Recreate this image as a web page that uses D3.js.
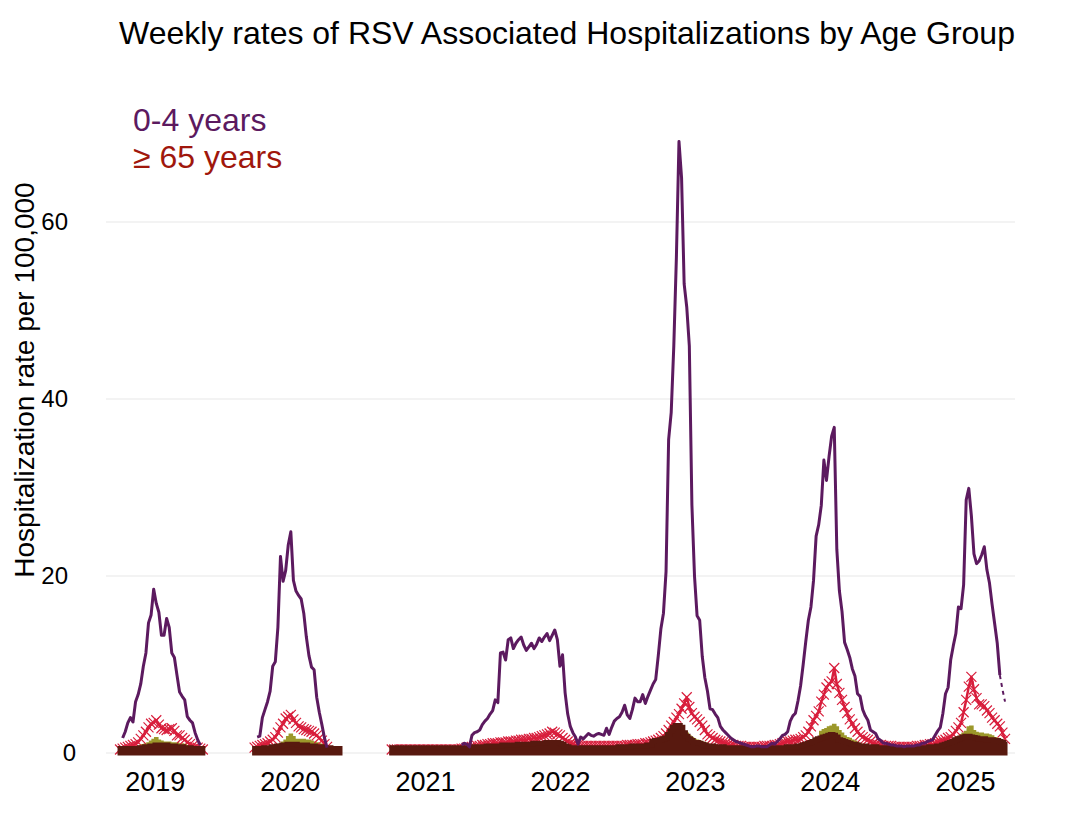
<!DOCTYPE html>
<html>
<head>
<meta charset="utf-8">
<script src="https://cdn.jsdelivr.net/npm/d3@7"></script>
<style>
  body { margin: 0; background: #fff; }
  text { font-family: "Liberation Sans", Arial, sans-serif; }
</style>
</head>
<body>
<div id="chart-area"></div>
<script>
// first week of each run of weekly data
let segmentStarts = ["2018-09-29", "2019-09-28", "2020-10-03"];
let yearTicks = [2019, 2020, 2021, 2022, 2023, 2024, 2025];
let yTicks = [0, 20, 40, 60];

// 0-4 years (purple line)
let kids2019 = [null, 1.7, 2.4, 3.4, 4.0, 3.5, 5.8, 6.6, 7.8, 9.8, 11.3, 14.7, 15.6, 18.5, 16.9, 15.9, 13.3, 13.3, 15.2, 14.2, 11.3, 10.8, 8.8, 6.9, 6.4, 6.0, 4.1, 3.7, 3.4, 2.3, 1.5, 0.9, null];
let kids2020 = [null, 1.8, 1.9, 4.0, 4.9, 5.8, 7.0, 9.8, 10.3, 14.2, 22.2, 19.4, 20.6, 23.5, 25.0, 19.5, 18.3, 17.8, 17.4, 15.8, 13.1, 11.0, 9.7, 9.4, 6.3, 4.6, 3.2, 1.7, 0.6, null, null, null, null, null];
let kidsLater = [
  null, null, null, null, null, null, null, null, null, null, null, null, null, null, null, null, null, null, null, null, null, null, null, null, null, null, null,
  0.9, 1.1, 1.0, 0.7, 2.0, 2.3, 2.4, 2.6, 3.2, 3.6, 3.9, 4.4, 4.8, 6.0, 5.7,
  11.3, 11.4, 10.5, 12.8, 13.0, 11.8, 12.4, 12.8, 13.1, 12.2, 11.6, 12.0, 12.4, 11.8, 12.3,
  13.0, 12.6, 13.1, 13.5, 12.7, 13.3, 13.9, 12.8, 9.8, 11.1, 6.8, 4.4, 3.0, 2.3, 1.8,
  1.0, 1.8, 1.6, 1.9, 2.2, 2.0, 1.9, 2.1, 2.2, 2.1, 2.0, 2.8, 2.1, 2.9, 3.6,
  3.9, 4.1, 4.6, 5.4, 4.3, 3.9, 4.9, 6.2, 5.8, 5.8, 6.6, 5.6, 6.4, 7.1, 7.8,
  8.3, 11.0, 14.0, 15.8, 20.5, 35.4, 38.5, 46.0, 56.0, 69.1, 65.0, 53.0, 50.4, 46.0, 28.0,
  20.0, 15.5, 15.0, 10.9, 8.5, 7.0, 5.0, 4.9, 4.4, 4.0, 3.0, 2.6, 2.3, 2.0, 1.7,
  1.5, 1.3, 1.2, 1.1, 1.0, 0.9, 0.8, 0.7, 0.7, 0.8, 0.8, 0.7, 0.7, 0.7, 0.9,
  1.1, 1.0, 1.3, 1.6, 2.0, 2.1, 2.4, 3.6, 4.2, 4.5, 5.9, 7.6, 10.0, 12.6, 15.0,
  16.5, 19.5, 24.5, 25.8, 28.0, 33.1, 30.8, 33.5, 35.8, 36.8, 23.0, 18.3, 16.0, 12.5, 11.7,
  10.8, 9.5, 8.7, 6.7, 6.4, 4.9, 4.2, 3.7, 2.6, 2.4, 2.2, 1.6, 1.4, 1.1, 1.1,
  1.0, 0.9, 0.9, 0.8, 0.8, 0.8, 0.7, 0.8, 0.8, 0.8, 0.8, 0.9, 0.9, 1.1, 1.1,
  1.3, 1.4, 1.5, 2.0, 2.5, 2.9, 4.5, 6.7, 7.4, 10.5, 12.1, 13.5, 16.5, 16.3, 19.0,
  28.6, 29.9, 26.8, 22.5, 21.4, 21.7, 22.4, 23.3, 20.7, 19.2, 16.8, 14.6, 12.4, 8.8, 7.2, 5.8
];

// >= 65 years (red line with crosses)
let seniors2019 = [0.4, 0.5, 0.6, 0.7, 0.8, 0.9, 1.0, 1.2, 1.6, 2.0, 2.4, 2.9, 3.3, 3.4, 3.7, 3.2, 2.8, 2.7, 2.6, 2.7, 2.8, 2.5, 2.0, 2.0, 1.7, 1.5, 1.2, 1.0, 0.8, 0.7, 0.6, 0.5, 0.4];
let seniors2020 = [0.6, 0.7, 0.8, 0.9, 1.0, 1.1, 1.3, 1.5, 1.8, 2.3, 2.9, 3.3, 3.9, 4.1, 4.3, 3.8, 3.4, 3.0, 2.9, 2.7, 2.6, 2.5, 2.4, 2.2, 2.0, 1.7, 1.4, 1.0, 0.7, null, null, null, null, null];
let seniorsLater = [
  0.4, 0.4, 0.4, 0.4, 0.4, 0.4, 0.4, 0.4, 0.4, 0.4, 0.4, 0.4, 0.4, 0.4, 0.4, 0.4, 0.4, 0.4, 0.4, 0.4, 0.4, 0.4, 0.4, 0.4, 0.4, 0.4, 0.4,
  0.5, 0.5, 0.6, 0.6, 0.7, 0.7, 0.8, 0.8, 0.9, 0.9, 1.0, 1.0, 1.1, 1.1,
  1.1, 1.2, 1.2, 1.2, 1.3, 1.3, 1.3, 1.4, 1.4, 1.5, 1.5, 1.5, 1.6, 1.6, 1.7,
  1.7, 1.8, 1.9, 2.0, 2.1, 2.2, 2.4, 2.3, 2.1, 2.0, 1.7, 1.5, 1.3,
  1.1, 1.0, 0.9, 0.9, 0.8, 0.8, 0.8, 0.8, 0.8, 0.8, 0.8, 0.8, 0.8, 0.8, 0.8, 0.8, 0.8, 0.8, 0.8, 0.8, 0.8, 0.8, 0.9, 0.9, 0.9, 0.9, 1.0, 1.0, 1.0, 1.1, 1.1,
  1.2, 1.3, 1.4, 1.5, 1.7, 1.9, 2.2, 2.6, 3.1, 3.5, 4.0, 4.4, 5.0, 5.6, 6.3, 5.2, 4.5, 4.1, 3.8, 3.5, 3.1, 2.6, 2.1, 1.9, 1.7, 1.5, 1.4, 1.3, 1.2, 1.1, 1.0,
  0.9, 0.9, 0.8, 0.8, 0.8, 0.7, 0.7, 0.7, 0.7, 0.7, 0.7, 0.7, 0.7, 0.8, 0.8,
  0.8, 0.8, 0.9, 0.9, 1.0, 1.1, 1.2, 1.3, 1.3, 1.4, 1.5, 1.5, 1.6, 1.8, 2.0, 2.4, 3.0, 3.7, 4.2, 4.7, 5.8, 6.6, 7.4, 7.8, 8.1, 9.6, 7.8, 6.8, 6.0, 5.2, 4.5, 3.8, 3.3, 2.8, 2.4, 2.0, 1.8, 1.6, 1.5, 1.3, 1.1, 1.0,
  0.9, 0.9, 0.8, 0.8, 0.8, 0.8, 0.7, 0.7, 0.7, 0.7, 0.7, 0.7, 0.7, 0.7, 0.7, 0.8, 0.8, 0.8, 0.9,
  0.9, 1.0, 1.0, 1.1, 1.2, 1.3, 1.4, 1.5, 1.7, 1.8, 2.1, 2.5, 2.9, 3.4, 4.6, 6.0, 7.5, 8.6, 7.2, 6.2, 5.5, 5.5, 5.3, 4.8, 4.5, 4.0, 3.7, 3.3, 3.0, 2.3, 1.6
];

// other age groups (olive and dark brown steps)
let olive2019 = [0.5, 0.5, 0.5, 0.6, 0.6, 0.6, 0.7, 0.7, 0.8, 0.9, 1.0, 1.1, 1.3, 1.5, 1.7, 1.4, 1.3, 1.2, 1.2, 1.2, 1.1, 1.1, 1.1, 1.0, 1.0, 0.9, 0.8, 0.7, 0.6, 0.5, 0.5, 0.5, 0.5];
let olive2020 = [0.5, 0.5, 0.5, 0.5, 0.6, 0.6, 0.7, 0.7, 0.8, 0.9, 1.0, 1.2, 1.4, 1.8, 2.1, 1.8, 1.5, 1.5, 1.5, 1.5, 1.4, 1.4, 1.3, 1.2, 1.1, 1.0, 0.9, 0.7, 0.6, 0.6, 0.5, 0.5, 0.5, 0.5];
let oliveLater = [
  0.5, 0.5, 0.5, 0.5, 0.5, 0.5, 0.5, 0.5, 0.5, 0.5, 0.5, 0.5, 0.5, 0.5, 0.5, 0.5, 0.5, 0.5, 0.5, 0.5, 0.5, 0.5, 0.5, 0.5, 0.5, 0.5, 0.5,
  0.6, 0.6, 0.6, 0.6, 0.6, 0.6, 0.6, 0.6, 0.6, 0.6, 0.6, 0.6, 0.6, 0.6,
  0.7, 0.7, 0.8, 0.8, 0.8, 0.8, 0.8, 0.8, 0.9, 0.9, 0.9, 0.9, 0.9, 0.9, 1.0,
  1.0, 1.0, 1.0, 1.1, 1.1, 1.1, 1.2, 1.2, 1.2, 1.1, 1.0, 0.8, 0.6,
  0.5, 0.5, 0.5, 0.5, 0.5, 0.5, 0.5, 0.5, 0.5, 0.5, 0.5, 0.5, 0.5, 0.5, 0.5, 0.5, 0.5, 0.5, 0.5, 0.6, 0.6, 0.6, 0.6, 0.6, 0.7, 0.7, 0.7, 0.7, 0.7, 0.7, 0.8,
  0.8, 1.0, 1.1, 1.2, 1.4, 1.5, 1.6, 1.9, 2.2, 2.5, 2.7, 2.8, 2.7, 2.4, 2.2, 1.9, 1.7, 1.5, 1.4, 1.3, 1.2, 1.1, 1.0, 0.9, 0.9, 0.8, 0.8, 0.7, 0.7, 0.6, 0.6,
  0.5, 0.5, 0.5, 0.5, 0.5, 0.5, 0.5, 0.5, 0.5, 0.5, 0.5, 0.5, 0.5, 0.5, 0.5, 0.5, 0.5, 0.5, 0.5, 0.5, 0.5, 0.5,
  0.6, 0.6, 0.6, 0.6, 0.7, 0.7, 0.8, 0.9, 1.0, 1.1, 1.3, 1.5, 1.7, 2.4, 2.6, 2.7, 2.9, 3.0, 3.2, 2.9, 2.5, 2.2, 1.9, 1.7, 1.6, 1.4, 1.3, 1.1, 1.0, 0.9, 0.9, 0.8, 0.7, 0.7, 0.6,
  0.5, 0.5, 0.5, 0.5, 0.5, 0.5, 0.5, 0.5, 0.5, 0.5, 0.5, 0.5, 0.5, 0.5, 0.5, 0.5, 0.5, 0.5, 0.5,
  0.5, 0.6, 0.6, 0.6, 0.7, 0.7, 0.8, 0.9, 1.0, 1.2, 1.4, 1.6, 1.8, 2.0, 2.2, 2.4, 2.9, 3.0, 2.5, 2.3, 2.2, 2.2, 2.1, 2.1, 2.0, 1.9, 1.7, 1.6, 1.5, 1.3, 1.1
];
let brown2019 = [0.5, 0.5, 0.5, 0.5, 0.5, 0.5, 0.5, 0.5, 0.6, 0.6, 0.7, 0.7, 0.8, 0.8, 0.9, 0.9, 0.9, 0.9, 0.9, 0.8, 0.8, 0.8, 0.7, 0.7, 0.7, 0.6, 0.6, 0.6, 0.5, 0.5, 0.5, 0.5, 0.5];
let brown2020 = [0.5, 0.5, 0.5, 0.5, 0.6, 0.6, 0.6, 0.7, 0.7, 0.8, 0.8, 0.9, 0.9, 1.0, 1.0, 1.0, 1.0, 0.9, 0.9, 0.9, 0.9, 0.8, 0.8, 0.8, 0.7, 0.7, 0.7, 0.6, 0.6, 0.6, 0.5, 0.5, 0.5, 0.5];
let brownLater = [
  0.6, 0.6, 0.6, 0.6, 0.6, 0.6, 0.6, 0.6, 0.6, 0.6, 0.6, 0.6, 0.6, 0.6, 0.6, 0.6, 0.6, 0.6, 0.6, 0.6, 0.6, 0.6, 0.6, 0.6, 0.6, 0.6, 0.6,
  0.6, 0.6, 0.6, 0.6, 0.7, 0.7, 0.7, 0.7, 0.7, 0.7, 0.8, 0.8, 0.8, 0.8,
  0.8, 0.8, 0.9, 0.9, 0.9, 0.9, 0.9, 0.9, 1.0, 1.0, 1.0, 1.0, 1.0, 1.0, 1.1,
  1.1, 1.1, 1.1, 1.1, 1.2, 1.2, 1.2, 1.2, 1.2, 1.1, 1.0, 0.8, 0.7,
  0.6, 0.6, 0.6, 0.6, 0.6, 0.6, 0.6, 0.6, 0.6, 0.6, 0.6, 0.6, 0.6, 0.6, 0.6, 0.6, 0.6, 0.6, 0.6, 0.7, 0.7, 0.7, 0.7, 0.7, 0.8, 0.8, 0.8, 0.8, 0.8, 0.8, 0.9,
  0.9, 1.3, 1.4, 1.4, 1.5, 1.6, 1.7, 2.1, 2.5, 2.9, 3.1, 3.1, 2.9, 2.3, 1.9, 1.6, 1.4, 1.2, 1.2, 1.1, 1.0, 0.9, 0.8, 0.8, 0.8, 0.7, 0.7, 0.7, 0.7, 0.6, 0.6,
  0.6, 0.6, 0.6, 0.6, 0.6, 0.6, 0.6, 0.6, 0.6, 0.6, 0.6, 0.6, 0.6, 0.6, 0.6, 0.6, 0.6, 0.6, 0.6, 0.6, 0.6, 0.6,
  0.7, 0.7, 0.7, 0.7, 0.8, 0.8, 0.9, 1.0, 1.1, 1.2, 1.3, 1.5, 1.6, 1.7, 1.8, 1.9, 2.0, 2.1, 2.0, 1.8, 1.5, 1.4, 1.3, 1.2, 1.1, 1.0, 1.0, 0.9, 0.8, 0.8, 0.8, 0.7, 0.7, 0.7, 0.7,
  0.6, 0.6, 0.6, 0.6, 0.6, 0.6, 0.6, 0.6, 0.6, 0.6, 0.6, 0.6, 0.6, 0.6, 0.6, 0.6, 0.6, 0.6, 0.6,
  0.6, 0.7, 0.7, 0.7, 0.8, 0.8, 0.9, 1.0, 1.1, 1.2, 1.3, 1.5, 1.6, 1.7, 1.8, 1.9, 1.9, 1.8, 1.75, 1.7, 1.6, 1.6, 1.6, 1.5, 1.5, 1.5, 1.4, 1.4, 1.3, 1.2, 1.0
];

let kidsColor = "#5c1a5f",
    seniorsColor = "#d81e3c",
    seniorsLegendColor = "#a0170c",
    oliveColor = "#9c982b",
    brownColor = "#58190f";

let svgWidth = 1066, svgHeight = 816;
let plotLeft = 106, plotRight = 1015;

let svg = d3.select("#chart-area")
    .append("svg")
    .attr("width", svgWidth)
    .attr("height", svgHeight);

let parseDate = d3.utcParse("%Y-%m-%d");

function weekly(startStr, values) {
    let start = parseDate(startStr);
    return values.map(function(v, i) {
        return { date: d3.utcDay.offset(start, 7 * i), value: v };
    });
}

let kids = [kids2019, kids2020, kidsLater].map(function(v, i) { return weekly(segmentStarts[i], v); });
let seniors = [seniors2019, seniors2020, seniorsLater].map(function(v, i) { return weekly(segmentStarts[i], v); });
let olive = [olive2019, olive2020, oliveLater].map(function(v, i) { return weekly(segmentStarts[i], v); });
let brown = [brown2019, brown2020, brownLater].map(function(v, i) { return weekly(segmentStarts[i], v); });

// X Scale
let x = d3.scaleUtc()
    .domain([new Date(Date.UTC(2018, 7, 22)), new Date(Date.UTC(2025, 4, 16))])
    .range([plotLeft, plotRight]);

// Y Scale
let y = d3.scaleLinear()
    .domain([0, 60])
    .range([753, 222]);

// Gridlines
svg.append("g")
    .selectAll("line")
    .data(yTicks)
    .enter()
    .append("line")
    .attr("x1", plotLeft)
    .attr("x2", plotRight)
    .attr("y1", function(d) { return y(d); })
    .attr("y2", function(d) { return y(d); })
    .attr("stroke", "#e8e8e8")
    .attr("stroke-width", 1.2);

// Y Axis
let yAxis = svg.append("g")
    .attr("transform", "translate(68,0)")
    .call(d3.axisLeft(y).tickValues(yTicks).tickSize(0).tickPadding(0));
yAxis.select(".domain").remove();
yAxis.selectAll("text")
    .attr("font-size", "24px")
    .attr("font-family", "Liberation Sans, Arial, sans-serif")
    .attr("fill", "#000")
    .attr("x", function(d) { return d === 0 ? 8 : 0; });

// X Axis
let xAxis = svg.append("g")
    .attr("transform", "translate(0," + y(0) + ")")
    .call(d3.axisBottom(x)
        .tickValues(yearTicks.map(function(yr) { return new Date(Date.UTC(yr, 0, 1)); }))
        .tickFormat(d3.utcFormat("%Y"))
        .tickSize(0)
        .tickPadding(19));
xAxis.select(".domain").remove();
xAxis.selectAll("text")
    .attr("font-size", "27px")
    .attr("font-family", "Liberation Sans, Arial, sans-serif")
    .attr("fill", "#000");

// Y Label
svg.append("text")
    .attr("transform", "translate(34,380) rotate(-90)")
    .attr("text-anchor", "middle")
    .attr("font-size", "28px")
    .text("Hospitalization rate per 100,000");

// Title
svg.append("text")
    .attr("x", 567)
    .attr("y", 44)
    .attr("text-anchor", "middle")
    .attr("font-size", "32px")
    .text("Weekly rates of RSV Associated Hospitalizations by Age Group");

// Legend
svg.append("text")
    .attr("x", 133)
    .attr("y", 131)
    .attr("font-size", "32px")
    .attr("fill", kidsColor)
    .text("0-4 years");
svg.append("text")
    .attr("x", 133)
    .attr("y", 168)
    .attr("font-size", "32px")
    .attr("fill", seniorsLegendColor)
    .text("\u2265 65 years");

let area = d3.area()
    .curve(d3.curveStep)
    .defined(function(d) { return d.value != null; })
    .x(function(d) { return x(d.date); })
    .y0(y(0))
    .y1(function(d) { return y(d.value); });

let line = d3.line()
    .defined(function(d) { return d.value != null; })
    .x(function(d) { return x(d.date); })
    .y(function(d) { return y(d.value); });

// Olive steps
svg.append("g")
    .selectAll("path")
    .data(olive)
    .enter()
    .append("path")
    .attr("d", area)
    .attr("fill", oliveColor)
    .attr("stroke", oliveColor)
    .attr("stroke-width", 2);

// >= 65 line and crosses
svg.append("g")
    .selectAll("path")
    .data(seniors)
    .enter()
    .append("path")
    .attr("d", line)
    .attr("fill", "none")
    .attr("stroke", seniorsColor)
    .attr("stroke-width", 2.5)
    .attr("stroke-linejoin", "round");

let allSeniors = [].concat(seniors[0], seniors[1], seniors[2])
    .filter(function(d) { return d.value != null; });
svg.append("g")
    .selectAll("path")
    .data(allSeniors)
    .enter()
    .append("path")
    .attr("transform", function(d) { return "translate(" + x(d.date) + "," + y(d.value) + ")"; })
    .attr("d", "M-5,-5L5,5M-5,5L5,-5")
    .attr("stroke", seniorsColor)
    .attr("stroke-width", 1.2);

// Dark brown steps
svg.append("g")
    .selectAll("path")
    .data(brown)
    .enter()
    .append("path")
    .attr("d", area)
    .attr("fill", brownColor)
    .attr("stroke", brownColor)
    .attr("stroke-width", 5);

// 0-4 line (last weeks dashed as preliminary)
let lastRun = kids[2];
let solidKids = [kids[0], kids[1], lastRun.slice(0, lastRun.length - 2)];
let dashedKids = lastRun.slice(lastRun.length - 3);

svg.append("g")
    .selectAll("path")
    .data(solidKids)
    .enter()
    .append("path")
    .attr("d", line)
    .attr("fill", "none")
    .attr("stroke", kidsColor)
    .attr("stroke-width", 3)
    .attr("stroke-linejoin", "round");

svg.append("path")
    .datum(dashedKids)
    .attr("d", line)
    .attr("fill", "none")
    .attr("stroke", kidsColor)
    .attr("stroke-width", 2)
    .attr("stroke-dasharray", "4,4");
</script>
</body>
</html>
